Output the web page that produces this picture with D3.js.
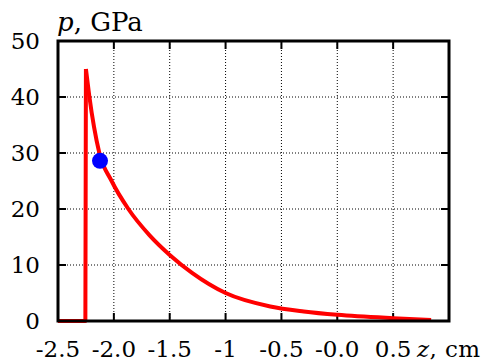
<!DOCTYPE html>
<html><head><meta charset="utf-8">
<script src="https://cdn.jsdelivr.net/npm/d3@7"></script>
<style>body{margin:0;background:#fff}svg{display:block}text{font-family:"DejaVu Serif",serif}</style>
</head><body>
<script>
// Data
const xTicks = [-2.5, -2.0, -1.5, -1.0, -0.5, 0.0, 0.5];
const xTickLabels = ["-2.5", "-2.0", "-1.5", "-1", "-0.5", "-0.0", "0.5"];
const yTicks = [0, 10, 20, 30, 40, 50];
const yTickLabels = ["0", "10", "20", "30", "40", "50"];
// step part of the curve
const stepZ = [-2.5, -2.255, -2.25];
const stepP = [0, 0, 45];
// decaying part
const decayZ = [-2.25, -2.22, -2.178, -2.131, -2.02, -1.87, -1.68, -1.5, -1.3, -1.0, -0.6, -0.3, 0.0, 0.5, 0.84];
const decayP = [45, 40.2, 34.7, 30.1, 25.0, 20.0, 15.3, 11.8, 8.6, 5.0, 2.6, 1.7, 1.1, 0.5, 0.2];
const markZ = [-2.124];
const markP = [28.6];

const W = 485, H = 364;
const m = {l: 58, r: 449, t: 41, b: 321};
const svg = d3.select("body").append("svg").attr("width", W).attr("height", H);
const x = d3.scaleLinear().domain([-2.5, 1.0]).range([m.l, m.r]);
const y = d3.scaleLinear().domain([0, 50]).range([m.b, m.t]);
const fs = 23;

// grid
const g = svg.append("g");
g.selectAll(".gx").data(xTicks.slice(1)).enter().append("line")
  .attr("x1", d => x(d)).attr("x2", d => x(d)).attr("y1", m.t).attr("y2", m.b)
  .attr("stroke", "#000").attr("stroke-width", 1).attr("stroke-dasharray", "1,2");
g.selectAll(".gy").data(yTicks.slice(1)).enter().append("line")
  .attr("y1", d => y(d)).attr("y2", d => y(d)).attr("x1", m.l).attr("x2", m.r)
  .attr("stroke", "#000").attr("stroke-width", 1).attr("stroke-dasharray", "1,2");

// ticks (inward, all sides)
const tl = 8;
const ticks = svg.append("g").attr("stroke", "#000").attr("stroke-width", 2);
xTicks.slice(1).forEach(d => {
  ticks.append("line").attr("x1", x(d)).attr("x2", x(d)).attr("y1", m.b).attr("y2", m.b - tl);
  ticks.append("line").attr("x1", x(d)).attr("x2", x(d)).attr("y1", m.t).attr("y2", m.t + tl);
});
yTicks.slice(1).forEach(d => {
  ticks.append("line").attr("y1", y(d)).attr("y2", y(d)).attr("x1", m.l).attr("x2", m.l + tl);
  ticks.append("line").attr("y1", y(d)).attr("y2", y(d)).attr("x1", m.r).attr("x2", m.r - tl);
});

// curve
const stepData = stepZ.map((z, i) => [z, stepP[i]]);
const decayData = decayZ.map((z, i) => [z, decayP[i]]);
const lin = d3.line().x(d => x(d[0])).y(d => y(d[1]));
svg.append("path").attr("d", lin(stepData)).attr("fill", "none")
  .attr("stroke", "#ff0000").attr("stroke-width", 4).attr("stroke-linejoin", "round");
svg.append("path").attr("d", lin.curve(d3.curveMonotoneX)(decayData)).attr("fill", "none")
  .attr("stroke", "#ff0000").attr("stroke-width", 4).attr("stroke-linejoin", "round");

// marker
svg.selectAll(".mk").data(markZ).enter().append("circle")
  .attr("cx", d => x(d)).attr("cy", (d, i) => y(markP[i])).attr("r", 8).attr("fill", "#0000ff");

// frame
svg.append("rect").attr("x", m.l).attr("y", m.t).attr("width", m.r - m.l).attr("height", m.b - m.t)
  .attr("fill", "none").attr("stroke", "#000").attr("stroke-width", 3);

// tick labels
svg.selectAll(".xl").data(xTicks).enter().append("text")
  .attr("x", d => x(d)).attr("y", 357).attr("text-anchor", "middle")
  .attr("font-size", fs).text((d, i) => xTickLabels[i]);
svg.selectAll(".yl").data(yTicks).enter().append("text")
  .attr("x", 40).attr("y", d => y(d)).attr("dy", "0.36em").attr("text-anchor", "end")
  .attr("font-size", fs).text((d, i) => yTickLabels[i]);

// axis titles
const xt = svg.append("text").attr("x", 417).attr("y", 357).attr("font-size", fs)
  .attr("textLength", 63).attr("lengthAdjust", "spacing");
xt.append("tspan").attr("font-style", "italic").text("z");
xt.append("tspan").text(", cm");
const yt = svg.append("text").attr("x", 57).attr("y", 31).attr("font-size", 26);
yt.append("tspan").attr("font-style", "italic").text("p");
yt.append("tspan").text(", GPa");
</script>
</body></html>
